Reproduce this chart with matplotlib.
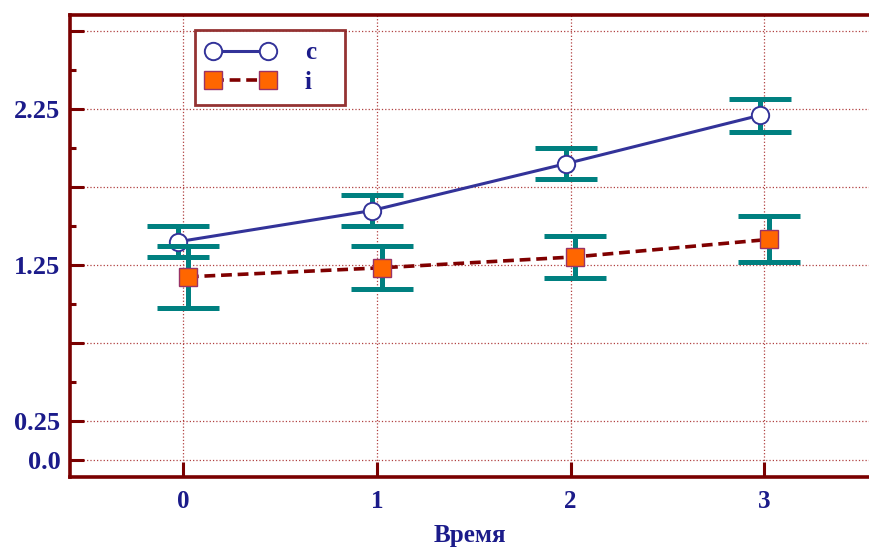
import numpy as np
import matplotlib
matplotlib.use("Agg")
import matplotlib.pyplot as plt
from matplotlib.ticker import FixedLocator, FixedFormatter

# --- datos ---
tiempo = [0, 1, 2, 3]
c_vals = [1.40, 1.60, 1.90, 2.21]
c_err = [0.10, 0.10, 0.10, 0.107]
i_vals = [1.175, 1.233, 1.303, 1.415]
i_err = [0.20, 0.137, 0.135, 0.148]

y_major = [0.0, 0.25, 0.75, 1.25, 1.75, 2.25, 2.75]
y_major_labels = ["0.0", "0.25", "", "1.25", "", "2.25", ""]
y_minor = [0.5, 1.0, 1.5, 2.0, 2.5]

navy = "#1b1b8a"
maroon = "#7a0000"
teal = "#008080"

plt.rcParams['font.family'] = ['Liberation Serif', 'DejaVu Serif']
plt.rcParams['font.weight'] = 'bold'

fig = plt.figure(figsize=(8.69, 5.49), dpi=100)
ax = fig.add_axes([0.0806, 0.131, 0.9194, 0.8415])

x = np.array(tiempo, dtype=float)
dodge = 0.025

# serie c
ax.errorbar(x - dodge, c_vals, yerr=c_err, fmt='none', ecolor=teal,
            elinewidth=3.6, capsize=22, capthick=3.6, zorder=2)
ax.plot(x - dodge, c_vals, color="#333399", lw=2.2, marker='o', ms=12.5,
        mfc='white', mec="#333399", mew=1.4, zorder=3, label='c')

# serie i
ax.errorbar(x + dodge, i_vals, yerr=i_err, fmt='none', ecolor=teal,
            elinewidth=3.6, capsize=22, capthick=3.6, zorder=4)
ax.plot(x + dodge, i_vals, color="#800000", lw=2.6, ls=(0, (3, 1.6)),
        marker='s', ms=12.5, mfc="#ff6600", mec="#993366", mew=1.0,
        zorder=5, label='i')

# ejes
ax.set_xlim(-0.583, 3.54)
ax.set_ylim(-0.109, 2.853)

ax.set_xticks(tiempo)
ax.set_xticklabels([str(t) for t in tiempo])
ax.yaxis.set_major_locator(FixedLocator(y_major))
ax.yaxis.set_major_formatter(FixedFormatter(y_major_labels))
ax.yaxis.set_minor_locator(FixedLocator(y_minor))

ax.tick_params(axis='x', direction='in', length=11, width=2.2, color=maroon,
               labelsize=18, labelcolor=navy, pad=9)
ax.tick_params(axis='y', which='major', direction='in', length=10, width=2.2,
               color=maroon, labelsize=19, labelcolor=navy, pad=7)
ax.tick_params(axis='y', which='minor', direction='in', length=4.5, width=2.2,
               color=maroon)

for s in ['left', 'bottom', 'top']:
    ax.spines[s].set_color(maroon)
    ax.spines[s].set_linewidth(2.6)
ax.spines['right'].set_visible(False)

ax.grid(True, which='major', color="#b04040", ls=':', lw=0.9, zorder=0)
ax.set_axisbelow(True)

ax.set_xlabel("Время", fontsize=18, color=navy, fontweight='bold', labelpad=8.5)

# leyenda con marco mas ancho que el contenido
leg = ax.legend(loc='upper left', bbox_to_anchor=(0.156, 0.0, 0.1877, 0.9675),
                mode='expand', numpoints=2, handlelength=2.8, fontsize=18,
                frameon=True, fancybox=False, borderpad=0.45, labelspacing=0.25,
                handletextpad=1.15, borderaxespad=0)
leg.get_frame().set_edgecolor(maroon)
leg.get_frame().set_linewidth(2.0)
for t in leg.get_texts():
    t.set_color(navy)
    t.set_fontweight('bold')

fig.savefig("out.png", dpi=100)
